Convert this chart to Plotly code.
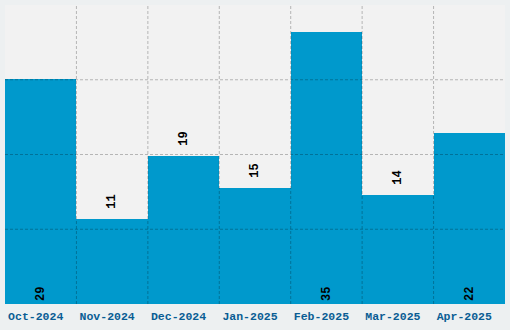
import plotly.graph_objects as go

months = ["Oct-2024", "Nov-2024", "Dec-2024", "Jan-2025", "Feb-2025", "Mar-2025", "Apr-2025"]
values = [29, 11, 19, 15, 35, 14, 22]

ymax = max(values) * 1.1
inside_threshold = 20
positions = ["inside" if v >= inside_threshold else "outside" for v in values]
labels = [str(v) if p == "inside" else " " + str(v) for v, p in zip(values, positions)]

fig = go.Figure(go.Bar(
    x=months, y=values,
    marker=dict(color="#0099cc", line=dict(width=0)),
    text=labels,
    textposition=positions,
    insidetextanchor="start",
    textangle=-90,
    textfont=dict(family="Liberation Mono", size=12, color="#000000", weight="bold"),
    cliponaxis=False,
))

grid = dict(color="rgba(0,0,0,0.25)", width=1, dash="3px,2px")
shapes = []
for i in range(len(months) - 1):
    shapes.append(dict(type="line", xref="x", yref="paper", x0=i + 0.5, x1=i + 0.5, y0=0, y1=1,
                       line=grid, layer="above"))
for k in range(1, 4):
    shapes.append(dict(type="line", xref="paper", yref="y", x0=0, x1=1, y0=ymax * k / 4, y1=ymax * k / 4,
                       line=grid, layer="above"))

fig.update_layout(
    width=510, height=330,
    margin=dict(l=5, r=5, t=5, b=26),
    paper_bgcolor="#edf0f1",
    plot_bgcolor="#f2f2f2",
    bargap=0,
    showlegend=False,
    shapes=shapes,
    xaxis=dict(showgrid=False, zeroline=False, showline=False, ticks="",
               ticklabelshift=-5, ticklabelstandoff=3,
               tickfont=dict(family="Liberation Mono", size=11.5, color="#0a5d94", weight="bold")),
    yaxis=dict(range=[0, ymax], showgrid=False, zeroline=False, showticklabels=False, ticks=""),
    uniformtext=dict(minsize=12, mode="show"),
)

fig.write_html("out.html")
